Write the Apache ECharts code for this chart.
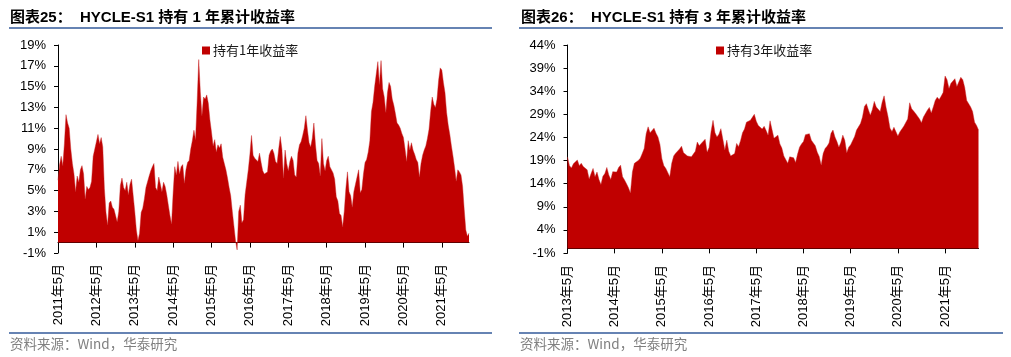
<!DOCTYPE html>
<html><head><meta charset="utf-8">
<script src="https://cdn.jsdelivr.net/npm/echarts@6/dist/echarts.min.js"></script>
<style>html,body{margin:0;padding:0;background:#fff}#c{width:1011px;height:357px}</style>
</head><body><div id="c"></div>
<script>
// ---- data (percent), semi-monthly samples ----
const title1 = '图表25：  HYCLE-S1 持有 1 年累计收益率';
const title2 = '图表26：  HYCLE-S1 持有 3 年累计收益率';
const legend1 = '持有1年收益率';
const legend2 = '持有3年收益率';
const sourceText = '资料来源：Wind，华泰研究';
const start1 = [2011, 5], start2 = [2013, 5], endYM = [2022, 1];
const tickMonth = 5;

const values1 = [
6.0,7.5,8.3,7.4,9.5,12.3,11.5,11.0,9.0,7.6,6.6,4.9,6.4,5.8,7.0,7.4,6.6,4.2,5.4,5.1,
5.3,5.9,8.3,9.0,9.7,10.4,9.5,10.1,9.2,5.2,2.9,1.7,3.8,4.0,3.4,3.2,2.6,2.0,3.0,5.5,
6.2,5.3,5.0,5.8,4.6,5.6,6.1,6.2,3.0,1.2,0.2,0.9,2.9,3.3,4.2,5.3,5.4,6.4,6.9,7.3,
7.6,5.3,5.0,6.3,5.6,4.9,5.8,5.4,4.6,3.6,2.6,1.8,4.8,7.3,6.5,7.8,6.6,7.3,7.5,5.7,
7.0,7.7,7.9,9.0,9.8,10.8,9.9,13.5,17.6,14.5,12.2,14.0,13.8,14.2,13.4,11.8,10.6,9.3,9.9,8.7,
9.4,9.1,9.5,8.2,7.6,7.0,6.2,5.3,4.5,3.0,1.6,0.2,-0.7,3.0,3.6,1.9,2.2,4.6,5.8,7.0,
8.5,10.3,8.4,8.1,8.2,7.8,8.6,7.7,6.9,6.6,6.6,6.8,8.4,8.8,9.0,8.6,7.8,7.6,9.0,10.2,
9.0,6.2,8.9,7.6,6.9,7.8,8.3,7.9,6.5,6.3,8.6,9.4,9.7,10.3,11.0,12.2,10.8,9.6,9.2,10.0,
11.5,9.4,7.9,7.6,6.4,10.0,7.6,6.9,7.9,8.3,7.3,7.3,6.7,6.1,4.4,4.0,2.8,2.6,1.5,3.0,
5.2,6.8,4.9,4.5,3.4,4.9,5.6,6.3,7.0,4.8,5.1,6.6,7.7,8.0,8.7,9.8,12.6,13.5,15.0,16.2,
17.4,15.2,17.5,14.8,14.0,12.5,14.4,15.4,15.0,13.8,13.2,12.4,11.5,11.3,11.0,10.5,10.1,9.0,7.8,9.8,
8.9,9.6,8.9,8.5,8.0,7.7,6.3,7.6,8.4,8.9,9.3,10.0,10.9,12.6,14.0,13.3,13.0,13.8,15.6,16.8,
16.6,15.4,14.4,12.5,11.3,10.4,9.3,8.3,7.2,5.9,7.0,6.8,6.5,5.4,3.2,1.2,0.6,0.9
];

const values2 = [
19.8,17.9,17.4,18.3,18.6,19.1,17.9,18.4,17.7,17.8,17.0,15.0,16.2,17.3,15.5,16.5,14.9,13.8,15.6,16.2,
17.5,15.9,14.9,16.6,16.9,16.5,17.5,18.0,15.5,14.8,14.0,13.1,12.0,16.5,18.4,18.0,19.0,19.5,20.5,21.6,
24.8,26.3,25.0,24.8,26.0,24.9,24.1,22.5,19.4,17.9,17.3,17.6,15.5,18.4,20.0,20.6,20.5,21.5,22.1,20.7,
20.4,20.0,20.1,19.8,19.5,21.0,23.0,22.2,22.7,23.1,23.6,20.8,21.8,25.3,27.7,25.0,24.1,24.7,25.9,23.6,
21.3,23.4,21.0,20.0,19.8,20.5,22.7,22.0,23.3,25.0,25.8,27.3,27.7,27.7,27.5,29.0,27.5,26.6,26.3,25.8,
26.4,25.5,24.5,27.6,27.2,23.8,24.0,24.5,22.6,21.7,20.0,20.1,18.4,19.8,20.1,19.6,18.6,20.4,21.9,22.6,
23.1,24.6,24.3,24.8,23.4,23.0,22.2,20.8,19.9,18.0,20.5,21.6,22.1,22.8,24.9,25.6,24.1,23.1,21.9,22.9,
24.5,23.4,20.7,21.9,22.4,22.8,24.2,25.6,25.7,27.0,28.4,30.7,31.3,30.0,28.8,30.0,31.8,30.6,30.9,29.6,
31.6,33.0,30.5,28.5,26.0,25.3,26.2,26.5,24.3,25.2,25.6,26.4,26.8,28.0,31.5,30.2,29.7,29.2,28.8,28.0,
27.2,28.4,28.0,29.9,30.5,29.3,30.6,32.0,32.7,32.2,32.9,33.7,37.3,36.5,34.6,35.7,35.3,36.7,35.0,35.3,
37.0,36.5,34.8,32.0,32.0,30.6,29.6,27.3,26.6,25.6
];

const yAxis1 = {min: -1, max: 19, interval: 2};
const yAxis2 = {min: -1, max: 44, interval: 5};

function halfMonths(s, e) {
  const out = [];
  let y = s[0], m = s[1];
  while (y < e[0] || (y === e[0] && m <= e[1])) {
    out.push(y + '年' + m + '月上');
    out.push(y + '年' + m + '月下');
    m++; if (m > 12) { m = 1; y++; }
  }
  return out;
}
const categories1 = halfMonths(start1, endYM);
const categories2 = halfMonths(start2, endYM);

const FONT = '"Liberation Sans", Arial, "Noto Sans CJK SC", sans-serif';
const CJK = '"Noto Sans CJK SC", sans-serif';
const isTick = (idx, val) => val.endsWith(tickMonth + '月上');

function xAxis(gridIndex, cats, margin) {
  return {
    type: 'category', gridIndex, data: cats, boundaryGap: false,
    axisLine: {onZero: true, lineStyle: {color: '#000', width: 1}},
    axisTick: {show: true, length: 5, interval: isTick, lineStyle: {color: '#000'}},
    axisLabel: {interval: isTick, rotate: 90, margin, color: '#000', fontSize: 13, fontFamily: FONT,
      formatter: v => v.replace('上', '')},
    splitLine: {show: false}
  };
}
function yAxis(gridIndex, cfg) {
  return {
    type: 'value', gridIndex, min: cfg.min, max: cfg.max, interval: cfg.interval,
    axisLine: {show: true, lineStyle: {color: '#000', width: 1}},
    axisTick: {show: true, length: 4, lineStyle: {color: '#000'}},
    axisLabel: {color: '#000', fontSize: 13, fontFamily: FONT, margin: 12, formatter: v => v + '%'},
    splitLine: {show: false}
  };
}
function series(name, idx, data) {
  return {
    name, type: 'line', xAxisIndex: idx, yAxisIndex: idx, data,
    showSymbol: false, symbol: 'none', sampling: null, animation: false,
    lineStyle: {color: 'rgba(200,40,40,0.55)', width: 0.8},
    areaStyle: {color: '#C00000', opacity: 1},
    itemStyle: {color: '#C00000'}
  };
}

const chart = echarts.init(document.getElementById('c'), null, {renderer: 'canvas'});
const lineColor = '#6683B3';
chart.setOption({
  animation: false,
  backgroundColor: '#fff',
  grid: [
    {left: 58, top: 45, width: 411, height: 208},
    {left: 567.5, top: 45, width: 411, height: 208}
  ],
  xAxis: [xAxis(0, categories1, 11), xAxis(1, categories2, 12)],
  yAxis: [yAxis(0, yAxis1), yAxis(1, yAxis2)],
  legend: [
    {data: [legend1], left: 197, top: 39, icon: 'rect', itemWidth: 8, itemHeight: 8, itemGap: 4,
     textStyle: {fontSize: 13, color: '#1a1a1a', fontFamily: CJK, padding: [0,0,0,-2]}},
    {data: [legend2], left: 711, top: 39, icon: 'rect', itemWidth: 8, itemHeight: 8, itemGap: 4,
     textStyle: {fontSize: 13, color: '#1a1a1a', fontFamily: CJK, padding: [0,0,0,-2]}}
  ],
  series: [series(legend1, 0, values1), series(legend2, 1, values2)],
  graphic: [
    {type: 'text', left: 10, top: 10, style: {text: title1, font: 'bold 15px ' + FONT, fill: '#000'}},
    {type: 'text', left: 521, top: 10, style: {text: title2, font: 'bold 15px ' + FONT, fill: '#000'}},
    {type: 'line', shape: {x1: 9, y1: 28, x2: 492, y2: 28}, style: {stroke: lineColor, lineWidth: 2}},
    {type: 'line', shape: {x1: 519, y1: 28, x2: 1003, y2: 28}, style: {stroke: lineColor, lineWidth: 2}},
    {type: 'line', shape: {x1: 9, y1: 333, x2: 492, y2: 333}, style: {stroke: lineColor, lineWidth: 2}},
    {type: 'line', shape: {x1: 519, y1: 333, x2: 1003, y2: 333}, style: {stroke: lineColor, lineWidth: 2}},
    {type: 'text', left: 10, top: 337, style: {text: sourceText, font: '13.5px ' + CJK, fill: '#808080'}},
    {type: 'text', left: 520, top: 337, style: {text: sourceText, font: '13.5px ' + CJK, fill: '#808080'}}
  ]
});
</script></body></html>
